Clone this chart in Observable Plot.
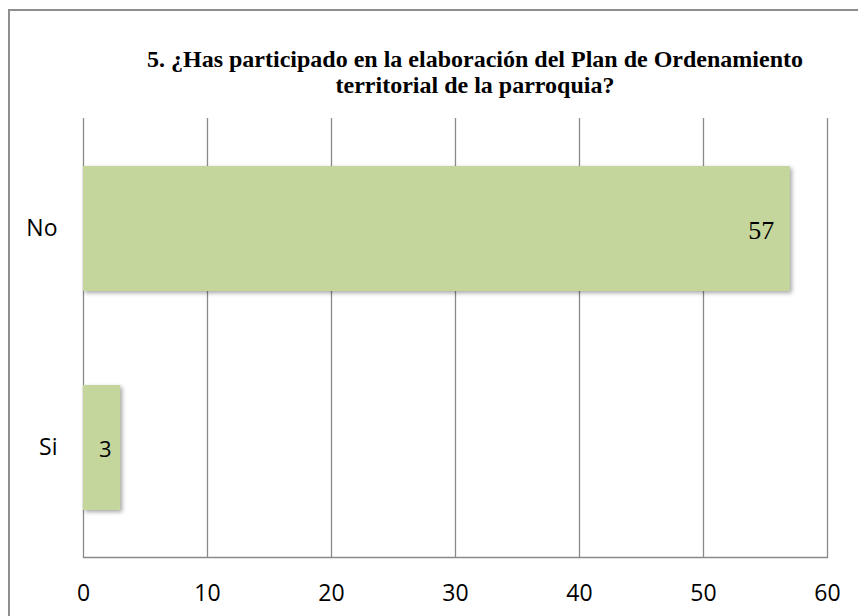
<!DOCTYPE html>
<html>
<head>
<meta charset="utf-8">
<script src="https://cdn.jsdelivr.net/npm/d3@7"></script>
<script src="https://cdn.jsdelivr.net/npm/@observablehq/plot@0.6"></script>
<style>
  html, body { margin: 0; padding: 0; background: #fff; overflow: hidden; }
  #wrap { position: relative; width: 858px; height: 616px; overflow: hidden; }
  #border { position: absolute; left: 8px; top: 9px; width: 1000px; height: 1000px;
            border-left: 2px solid #8e8e8e; border-top: 2px solid #8e8e8e; pointer-events: none; }
  #title { position: absolute; left: 0; width: 950px; top: 46px; text-align: center;
           font-family: "Liberation Serif", "Times New Roman", serif; font-weight: bold;
           font-size: 24px; line-height: 26px; color: #000; }
  g[aria-label="bar"] rect { filter: drop-shadow(2px 2px 2px rgba(0,0,0,0.35)); }
  .val-serif, .val-serif text { font-family: "Liberation Serif", "Times New Roman", serif !important; }
</style>
</head>
<body>
<div id="wrap">
  <div id="border"></div>
  <div id="title">5. ¿Has participado en la elaboración del Plan de Ordenamiento<br>territorial de la parroquia?</div>
</div>
<script>
const categories = ["No", "Si"];
const values = [57, 3];
const xTicks = [0, 10, 20, 30, 40, 50, 60];

const data = categories.map((c, i) => ({cat: c, value: values[i]}));

const sans = "'Open Sans', sans-serif";
const chart = Plot.plot({
  width: 858,
  height: 616,
  marginLeft: 83,
  marginRight: 31,
  marginTop: 118,
  marginBottom: 59,
  style: {background: "transparent", fontSize: "23px", color: "#000"},
  x: {domain: [0, 60], label: null},
  y: {domain: categories, paddingInner: 0.43, paddingOuter: 0.215, label: null},
  marks: [
    Plot.gridX(xTicks, {stroke: "#8a8a8a", strokeOpacity: 1, strokeWidth: 1.3}),
    Plot.frame({anchor: "bottom", stroke: "#8a8a8a", strokeWidth: 1.3}),
    Plot.barX(data, {x: "value", y: "cat", fill: "#c4d69b"}),
    Plot.axisX(xTicks, {tickSize: 0, tickPadding: 27, fontSize: 23, fill: "#000", fontFamily: sans}),
    Plot.axisY({tickSize: 0, tickPadding: 26, fontSize: 23, fill: "#000", fontFamily: sans}),
    Plot.text(data, {filter: d => d.value >= 10, x: "value", y: "cat", text: d => String(d.value),
      textAnchor: "end", dx: -16, dy: 2, fontSize: 26, fill: "#000",
      fontFamily: "Liberation Serif", className: "val-serif"}),
    Plot.text(data, {filter: d => d.value < 10, x: "value", y: "cat", text: d => String(d.value),
      textAnchor: "end", dx: -9, dy: 2, fontSize: 22, fill: "#000", fontFamily: sans})
  ]
});
// mark the serif value labels so the stylesheet can reach them
d3.select(chart).selectAll("text").filter(function () { return this.textContent === String(values[0]); })
  .classed("val-serif", true);
chart.style.position = "absolute";
chart.style.left = "0";
chart.style.top = "0";
document.getElementById("wrap").insertBefore(chart, document.getElementById("border"));
</script>
</body>
</html>
